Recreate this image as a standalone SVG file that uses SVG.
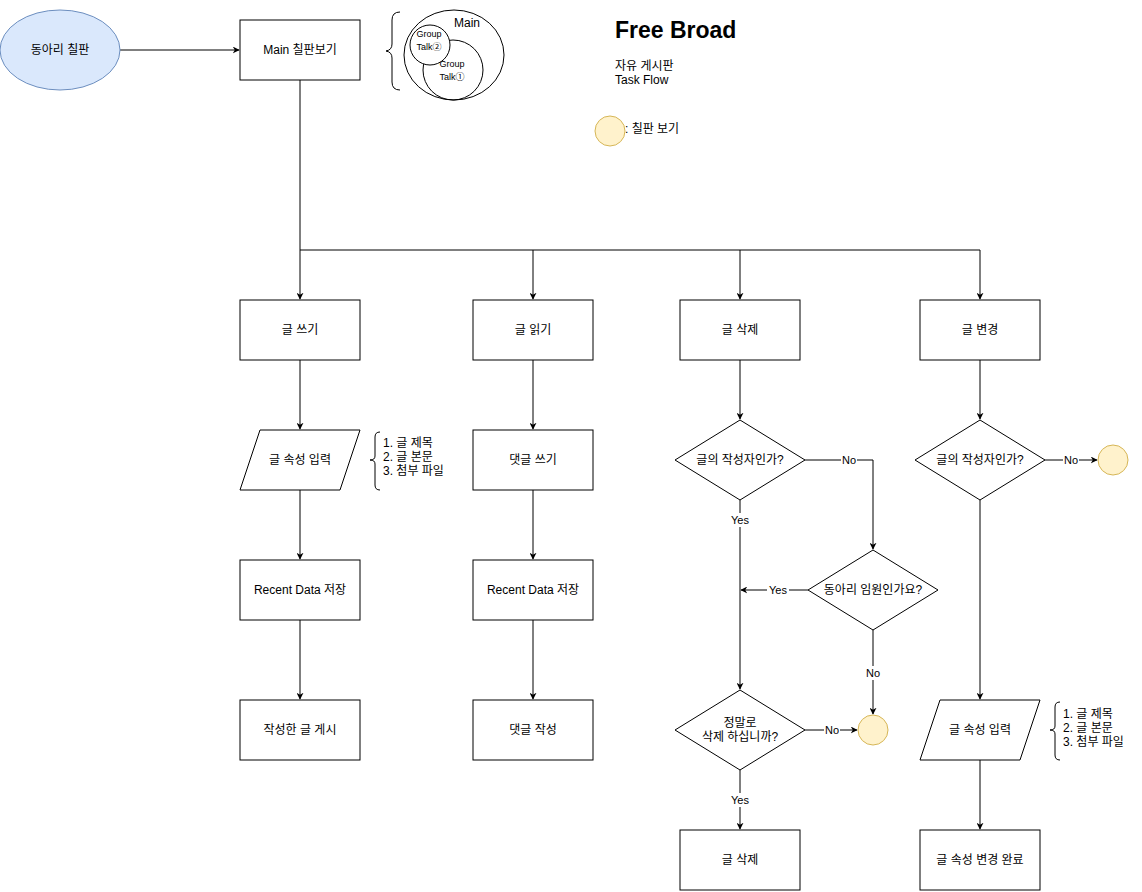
<svg xmlns="http://www.w3.org/2000/svg" width="1142" height="892" viewBox="0 0 1142 892">
<style>
.n{fill:#fff;stroke:#000;stroke-width:1}
.t{font-family:"Liberation Sans","Noto Sans CJK KR",sans-serif;font-size:12px;fill:#000;text-anchor:middle;dominant-baseline:central}
.tl{font-family:"Liberation Sans","Noto Sans CJK KR",sans-serif;font-size:12px;fill:#000;dominant-baseline:central}
.s{font-family:"Liberation Sans","Noto Sans CJK KR",sans-serif;font-size:11px;fill:#000;text-anchor:middle;dominant-baseline:central}
.c{fill:none;stroke:#000;stroke-width:1}
.y{fill:#fff2cc;stroke:#d6b656;stroke-width:1}
.lb{fill:#fff}
</style>
<defs>
<marker id="a" viewBox="0 0 10 10" refX="9" refY="5" markerWidth="7" markerHeight="7" orient="auto" markerUnits="userSpaceOnUse"><path d="M0,0 L10,5 L0,10 L3,5 Z" fill="#000"/></marker>
</defs>
<rect width="1142" height="892" fill="#fff"/>

<g id="connectors">
<path class="c" d="M120,50 H239" marker-end="url(#a)"/>
<path class="c" d="M300,80 V250 H980"/>
<path class="c" d="M300,250 V299" marker-end="url(#a)"/>
<path class="c" d="M533,250 V299" marker-end="url(#a)"/>
<path class="c" d="M740,250 V299" marker-end="url(#a)"/>
<path class="c" d="M980,250 V299" marker-end="url(#a)"/>
<path class="c" d="M300,360 V429" marker-end="url(#a)"/>
<path class="c" d="M300,490 V559" marker-end="url(#a)"/>
<path class="c" d="M300,620 V699" marker-end="url(#a)"/>
<path class="c" d="M533,360 V429" marker-end="url(#a)"/>
<path class="c" d="M533,490 V559" marker-end="url(#a)"/>
<path class="c" d="M533,620 V699" marker-end="url(#a)"/>
<path class="c" d="M740,360 V419" marker-end="url(#a)"/>
<path class="c" d="M805,460 H873 V549" marker-end="url(#a)"/>
<path class="c" d="M740,500 V689" marker-end="url(#a)"/>
<path class="c" d="M808,590 H741" marker-end="url(#a)"/>
<path class="c" d="M873,630 V714" marker-end="url(#a)"/>
<path class="c" d="M805,730 H857" marker-end="url(#a)"/>
<path class="c" d="M740,770 V829" marker-end="url(#a)"/>
<path class="c" d="M980,360 V419" marker-end="url(#a)"/>
<path class="c" d="M1045,460 H1097" marker-end="url(#a)"/>
<path class="c" d="M980,500 V699" marker-end="url(#a)"/>
<path class="c" d="M980,760 V829" marker-end="url(#a)"/>
<rect class="lb" x="841" y="453" width="16" height="14"/><text class="s" x="849" y="460">No</text>
<rect class="lb" x="729" y="513" width="22" height="14"/><text class="s" x="740" y="520">Yes</text>
<rect class="lb" x="767" y="583" width="22" height="14"/><text class="s" x="778" y="590">Yes</text>
<rect class="lb" x="865" y="666" width="16" height="14"/><text class="s" x="873" y="673">No</text>
<rect class="lb" x="824" y="723" width="16" height="14"/><text class="s" x="832" y="730">No</text>
<rect class="lb" x="729" y="793" width="22" height="14"/><text class="s" x="740" y="800">Yes</text>
<rect class="lb" x="1063" y="453" width="16" height="14"/><text class="s" x="1071" y="460">No</text>
</g>

<g id="start"><ellipse cx="60" cy="50" rx="60" ry="40" fill="#dae8fc" stroke="#6c8ebf"/><text class="t" x="60" y="50">동아리 칠판</text></g>
<g id="main"><rect class="n" x="240" y="20" width="120" height="60"/><text class="t" x="300" y="50">Main 칠판보기</text></g>

<g id="venn">
<path class="c" d="M400,12 Q392,12 392,20 V44 Q392,50 386,51 Q392,52 392,58 V82 Q392,90 400,90"/>
<ellipse class="c" cx="454" cy="55" rx="50" ry="45"/>
<circle class="c" cx="453" cy="70" r="30"/>
<circle class="n" cx="430" cy="45" r="20"/>
<text class="s" x="467" y="23" style="font-size:12px">Main</text>
<text class="s" x="429" y="34" style="font-size:9px">Group</text>
<text class="s" x="429" y="47" style="font-size:9px">Talk②</text>
<text class="s" x="452" y="64" style="font-size:9px">Group</text>
<text class="s" x="452" y="77" style="font-size:9px">Talk①</text>
</g>

<g id="title">
<text x="615" y="38" style="font-family:'Liberation Sans',sans-serif;font-size:23px;font-weight:bold">Free Broad</text>
<text class="tl" x="615" y="66">자유 게시판</text>
<text class="tl" x="615" y="80">Task Flow</text>
</g>
<g id="legend"><circle class="y" cx="610" cy="131" r="15"/><text class="tl" x="625" y="129">: 칠판 보기</text></g>

<g id="write"><rect class="n" x="240" y="300" width="120" height="60"/><text class="t" x="300" y="330">글 쓰기</text></g>
<g id="read"><rect class="n" x="473" y="300" width="120" height="60"/><text class="t" x="533" y="330">글 읽기</text></g>
<g id="delete"><rect class="n" x="680" y="300" width="120" height="60"/><text class="t" x="740" y="330">글 삭제</text></g>
<g id="modify"><rect class="n" x="920" y="300" width="120" height="60"/><text class="t" x="980" y="330">글 변경</text></g>

<g id="input1"><path class="n" d="M260,430 H360 L340,490 H240 Z"/><text class="t" x="300" y="460">글 속성 입력</text></g>
<g id="note1">
<path class="c" d="M380,432 Q375,432 375,437 V456 Q375,460 370,460 Q375,460 375,464 V485 Q375,490 380,490"/>
<text class="tl" x="383" y="443">1. 글 제목</text>
<text class="tl" x="383" y="457">2. 글 본문</text>
<text class="tl" x="383" y="471">3. 첨부 파일</text>
</g>
<g id="recent1"><rect class="n" x="240" y="560" width="120" height="60"/><text class="t" x="300" y="590">Recent Data 저장</text></g>
<g id="post"><rect class="n" x="240" y="700" width="120" height="60"/><text class="t" x="300" y="730">작성한 글 게시</text></g>

<g id="comment"><rect class="n" x="473" y="430" width="120" height="60"/><text class="t" x="533" y="460">댓글 쓰기</text></g>
<g id="recent2"><rect class="n" x="473" y="560" width="120" height="60"/><text class="t" x="533" y="590">Recent Data 저장</text></g>
<g id="commentDone"><rect class="n" x="473" y="700" width="120" height="60"/><text class="t" x="533" y="730">댓글 작성</text></g>

<g id="isAuthor1"><path class="n" d="M740,420 L805,460 L740,500 L675,460 Z"/><text class="t" x="740" y="460">글의 작성자인가?</text></g>
<g id="isAdmin"><path class="n" d="M873,550 L938,590 L873,630 L808,590 Z"/><text class="t" x="873" y="590">동아리 임원인가요?</text></g>
<g id="confirm"><path class="n" d="M740,690 L805,730 L740,770 L675,730 Z"/><text class="t" x="740" y="723">정말로</text><text class="t" x="740" y="737">삭제 하십니까?</text></g>
<g id="end1"><circle class="y" cx="873" cy="730" r="15"/></g>
<g id="deleted"><rect class="n" x="680" y="830" width="120" height="60"/><text class="t" x="740" y="860">글 삭제</text></g>

<g id="isAuthor2"><path class="n" d="M980,420 L1045,460 L980,500 L915,460 Z"/><text class="t" x="980" y="460">글의 작성자인가?</text></g>
<g id="end2"><circle class="y" cx="1113" cy="460" r="15"/></g>
<g id="input2"><path class="n" d="M940,700 H1040 L1020,760 H920 Z"/><text class="t" x="980" y="730">글 속성 입력</text></g>
<g id="note2">
<path class="c" d="M1060,702 Q1055,702 1055,707 V726 Q1055,730 1050,730 Q1055,730 1055,734 V755 Q1055,760 1060,760"/>
<text class="tl" x="1063" y="714">1. 글 제목</text>
<text class="tl" x="1063" y="728">2. 글 본문</text>
<text class="tl" x="1063" y="742">3. 첨부 파일</text>
</g>
<g id="modified"><rect class="n" x="920" y="830" width="120" height="60"/><text class="t" x="980" y="860">글 속성 변경 완료</text></g>
</svg>
